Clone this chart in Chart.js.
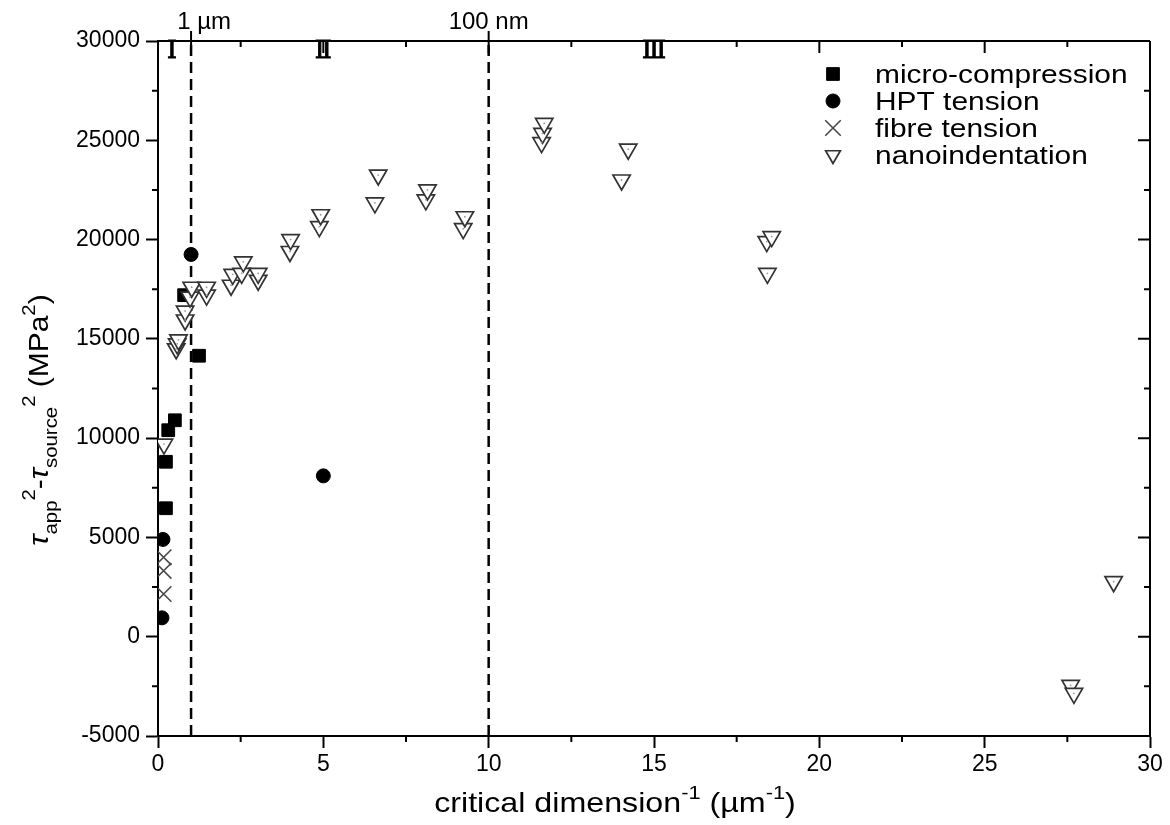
<!DOCTYPE html>
<html>
<head>
<meta charset="utf-8">
<script src="https://cdn.jsdelivr.net/npm/chart.js@4.4.1/dist/chart.umd.min.js"></script>
<style>
  html, body { margin: 0; padding: 0; background: #ffffff; }
  #wrap { width: 1170px; height: 825px; position: relative; }
</style>
</head>
<body>
<div id="wrap"><canvas id="chart" width="1170" height="825"></canvas></div>
<script>
// ---- data: inverse critical dimension (µm^-1) vs. tau_app^2 - tau_source^2 (MPa^2)
const microCompressionX = [0.79, 1.24, 0.51, 0.31, 0.24, 0.24];
const microCompressionY = [17200, 14150, 10900, 10400, 8810, 6470];

const hptTensionX = [0.12, 0.15, 1.0, 5.0];
const hptTensionY = [950, 4900, 19250, 8100];

const fibreTensionX = [0.17, 0.17, 0.17];
const fibreTensionY = [4000, 3320, 2150];

const nanoindentationX = [0.18, 0.55, 0.58, 0.62, 0.82, 0.82, 0.97, 1.02, 1.47, 1.47,
  2.21, 2.26, 2.53, 2.58, 3.03, 3.03, 3.99, 4.01, 4.88, 4.92,
  6.56, 6.66, 8.10, 8.15, 9.23, 9.28, 11.60, 11.63, 11.68, 14.02,
  14.22, 18.41, 18.56, 18.43, 27.60, 27.70, 28.90];
const nanoindentationY = [9700, 14500, 14750, 14950, 15950, 16400, 17100, 17600, 17200, 17600,
  17700, 18250, 18300, 18880, 17950, 18300, 19400, 20000, 20650, 21250,
  21850, 23250, 22000, 22500, 20550, 21150, 24880, 25350, 25850, 23000,
  24550, 19900, 20150, 18300, -2450, -2850, 2770];

// regime boundaries (µm^-1) and their size labels on the top axis
const boundaryX = [1, 10];
const boundaryLabels = ['1 µm', '100 nm'];

// regime labels
const regimeLabels = ['Ⅰ', 'Ⅱ', 'Ⅲ'];
const regimeX = [0.42, 5.0, 15.0];
const regimeY = [29450, 29450, 29450];

// axis ranges and ticks
const xMin = 0, xMax = 30, xStep = 5, xMinorStep = 2.5;
const yMin = -5000, yMax = 30000, yStep = 5000, yMinorStep = 2500;

const seriesNames = ['micro-compression', 'HPT tension', 'fibre tension', 'nanoindentation'];

const FONT = '"Liberation Sans", Arial, Helvetica, sans-serif';

function zip(xs, ys) { return xs.map((x, i) => ({ x: x, y: ys[i] })); }

const markerStyles = {
  micro: { pointStyle: 'rect', radius: 9, backgroundColor: '#000', borderColor: '#000', borderWidth: 1 },
  hpt: { pointStyle: 'circle', radius: 7, backgroundColor: '#000', borderColor: '#000', borderWidth: 1 },
  fibre: { pointStyle: 'crossRot', radius: 11, backgroundColor: '#4a4a4a', borderColor: '#4a4a4a', borderWidth: 1.6 },
  nano: { pointStyle: 'triangle', radius: 10, rotation: 180, backgroundColor: '#fff', borderColor: '#333', borderWidth: 1.7 }
};

function pointDataset(label, xs, ys, st, order) {
  return {
    label: label,
    data: zip(xs, ys),
    pointStyle: st.pointStyle,
    pointRadius: st.radius,
    pointRotation: st.rotation || 0,
    pointBackgroundColor: st.backgroundColor,
    pointBorderColor: st.borderColor,
    pointBorderWidth: st.borderWidth,
    showLine: false,
    clip: 0,
    order: order
  };
}

const datasets = [
  pointDataset(seriesNames[3], nanoindentationX, nanoindentationY, markerStyles.nano, 1),
  {
    label: 'nano-centre',
    data: zip(nanoindentationX, nanoindentationY),
    pointStyle: 'circle', pointRadius: 0.9, pointBackgroundColor: '#9a9a9a',
    pointBorderWidth: 0, showLine: false, clip: 0, order: 0
  },
  pointDataset(seriesNames[0], microCompressionX, microCompressionY, markerStyles.micro, 3),
  pointDataset(seriesNames[1], hptTensionX, hptTensionY, markerStyles.hpt, 3),
  pointDataset(seriesNames[2], fibreTensionX, fibreTensionY, markerStyles.fibre, 3)
];
boundaryX.forEach((bx) => {
  datasets.push({
    label: 'boundary',
    data: [{ x: bx, y: yMin }, { x: bx, y: yMax }],
    showLine: true, borderColor: '#000', borderWidth: 2.5, borderDash: [11, 6],
    pointRadius: 0, clip: 0, order: 5
  });
});

// rich text: segments {t, style: 'n'|'i'|'sub'|'sup'}
function segFont(seg, size) {
  const s = (seg.style === 'sub' || seg.style === 'sup') ? size * 0.68 : size;
  const it = seg.style === 'i' ? 'italic ' : '';
  return it + s + 'px ' + FONT;
}
function drawRich(ctx, segs, size, stretch) {
  let total = 0;
  const widths = segs.map((seg) => { ctx.font = segFont(seg, size); const w = ctx.measureText(seg.t).width; total += w; return w; });
  ctx.save();
  ctx.scale(stretch, 1);
  let x = -total / 2;
  ctx.textAlign = 'left';
  ctx.textBaseline = 'alphabetic';
  segs.forEach((seg, i) => {
    ctx.font = segFont(seg, size);
    let dy = 0;
    if (seg.style === 'sub') dy = size * 0.32;
    if (seg.style === 'sup') dy = -size * 0.45;
    ctx.fillText(seg.t, x, dy);
    x += widths[i];
  });
  ctx.restore();
}

const framePlugin = {
  id: 'frame',
  afterDatasetsDraw(chart) {
    const ctx = chart.ctx;
    const xs = chart.scales.x, ys = chart.scales.y;
    const a = chart.chartArea;
    ctx.save();
    ctx.strokeStyle = '#000';
    ctx.fillStyle = '#000';
    ctx.lineWidth = 2;

    // top and right frame lines
    ctx.beginPath();
    ctx.moveTo(a.left - 1, a.top); ctx.lineTo(a.right, a.top);
    ctx.moveTo(a.right, a.top); ctx.lineTo(a.right, a.bottom + 1);
    ctx.stroke();

    // minor ticks bottom/left (outward), mirrored ticks top/right (inward)
    ctx.beginPath();
    for (let v = xMin; v <= xMax + 1e-9; v += xMinorStep) {
      const px = xs.getPixelForValue(v);
      const major = Math.abs(v / xStep - Math.round(v / xStep)) < 1e-6;
      const len = major ? 12 : 6;
      if (!major) { ctx.moveTo(px, a.bottom); ctx.lineTo(px, a.bottom + len); }
      ctx.moveTo(px, a.top); ctx.lineTo(px, a.top + len);
    }
    for (let v = yMin; v <= yMax + 1e-9; v += yMinorStep) {
      const py = ys.getPixelForValue(v);
      const major = Math.abs(v / yStep - Math.round(v / yStep)) < 1e-6;
      const len = major ? 12 : 6;
      if (!major) { ctx.moveTo(a.left, py); ctx.lineTo(a.left - len, py); }
      ctx.moveTo(a.right, py); ctx.lineTo(a.right - len, py);
    }
    // boundary ticks crossing the top axis
    boundaryX.forEach((bx) => {
      const px = xs.getPixelForValue(bx);
      ctx.moveTo(px, a.top - 10); ctx.lineTo(px, a.top + 8);
    });
    ctx.stroke();

    // size labels above the boundaries
    ctx.font = '24px ' + FONT;
    ctx.textBaseline = 'alphabetic';
    ctx.textAlign = 'center';
    const labelShift = [13, 0];
    boundaryX.forEach((bx, i) => {
      ctx.fillText(boundaryLabels[i], xs.getPixelForValue(bx) + labelShift[i], a.top - 12);
    });

    // regime numerals
    ctx.font = '25px "DejaVu Serif", "Liberation Serif", serif';
    ctx.textBaseline = 'middle';
    ctx.lineWidth = 0.9;
    regimeLabels.forEach((t, i) => {
      const px = xs.getPixelForValue(regimeX[i]), py = ys.getPixelForValue(regimeY[i]);
      ctx.fillText(t, px, py);
      ctx.strokeText(t, px, py);
    });
    ctx.lineWidth = 2;

    // x-axis title
    ctx.save();
    ctx.translate(615, 812);
    drawRich(ctx, [
      { t: 'critical dimension', style: 'n' }, { t: '-1', style: 'sup' },
      { t: ' (µm', style: 'n' }, { t: '-1', style: 'sup' }, { t: ')', style: 'n' }
    ], 28, 1.15);
    ctx.restore();

    // y-axis title
    ctx.save();
    ctx.translate(48, 420);
    ctx.rotate(-Math.PI / 2);
    drawRich(ctx, [
      { t: 'τ', style: 'i' }, { t: 'app', style: 'sub' }, { t: '2', style: 'sup' },
      { t: '-', style: 'n' }, { t: 'τ', style: 'i' }, { t: 'source', style: 'sub' }, { t: '2', style: 'sup' },
      { t: ' (MPa', style: 'n' }, { t: '2', style: 'sup' }, { t: ')', style: 'n' }
    ], 28, 1.07);
    ctx.restore();

    // legend
    const legendOrder = [['micro', 0], ['hpt', 1], ['fibre', 2], ['nano', 3]];
    const rowY = [74, 101, 128, 155];
    legendOrder.forEach(([key, idx], i) => {
      const st = markerStyles[key];
      ctx.save();
      ctx.fillStyle = st.backgroundColor;
      ctx.strokeStyle = st.borderColor;
      ctx.lineWidth = st.borderWidth;
      const r = key === 'nano' ? 8.5 : st.radius;
      Chart.helpers.drawPoint(ctx, { pointStyle: st.pointStyle, rotation: st.rotation || 0, radius: r, borderWidth: st.borderWidth }, 833, rowY[i]);
      ctx.restore();
      ctx.save();
      ctx.font = '26px ' + FONT;
      ctx.textAlign = 'left';
      ctx.textBaseline = 'alphabetic';
      ctx.fillStyle = '#000';
      ctx.translate(875, rowY[i] + 9);
      ctx.scale(1.15, 1);
      ctx.fillText(seriesNames[idx], 0, 0);
      ctx.restore();
    });
    ctx.restore();
  }
};

new Chart(document.getElementById('chart'), {
  type: 'scatter',
  data: { datasets: datasets },
  options: {
    responsive: false,
    animation: false,
    events: [],
    devicePixelRatio: 1,
    layout: { padding: { top: 41, right: 20, left: 0, bottom: 0 } },
    plugins: { legend: { display: false }, tooltip: { enabled: false } },
    scales: {
      x: {
        type: 'linear', position: 'bottom', min: xMin, max: xMax,
        afterFit(s) { s.height = 89; },
        ticks: { stepSize: xStep, color: '#000', font: { family: FONT, size: 23 }, padding: 3, maxRotation: 0,
          callback: (v) => String(v) },
        grid: { display: true, drawOnChartArea: false, drawTicks: true, tickLength: 12, tickWidth: 2, tickColor: '#000', color: '#000' },
        border: { display: true, color: '#000', width: 2 }
      },
      y: {
        type: 'linear', position: 'left', min: yMin, max: yMax,
        afterFit(s) { s.width = 158; },
        ticks: { stepSize: yStep, color: '#000', font: { family: FONT, size: 23 }, padding: 6,
          callback: (v) => String(v) },
        grid: { display: true, drawOnChartArea: false, drawTicks: true, tickLength: 12, tickWidth: 2, tickColor: '#000', color: '#000' },
        border: { display: true, color: '#000', width: 2 }
      }
    }
  },
  plugins: [framePlugin]
});
</script>
</body>
</html>
